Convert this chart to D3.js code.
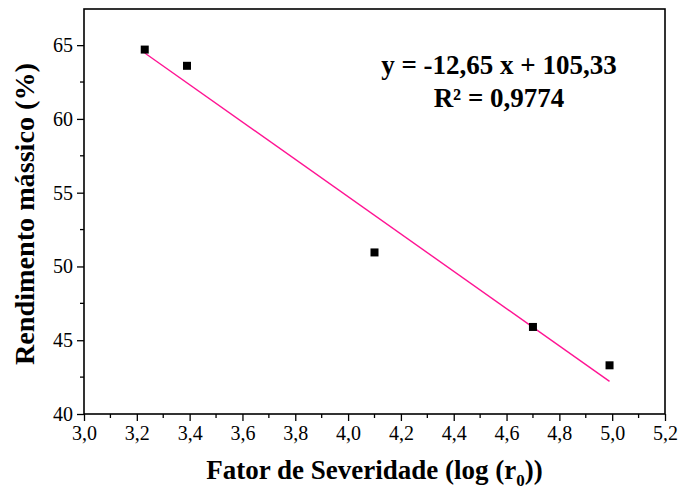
<!DOCTYPE html>
<html>
<head>
<meta charset="utf-8">
<title>Rendimento mássico</title>
<script src="https://d3js.org/d3.v7.min.js"></script>
<style>
  body { margin: 0; background: #fff; }
</style>
</head>
<body>
<div id="chart"></div>
<script>
// data
var severidade = [3.23, 3.39, 4.10, 4.70, 4.99];
var rendimento = [64.7, 63.6, 50.95, 45.9, 43.3];
var slope = -12.65, intercept = 105.33;
var xTicks = [3.0, 3.2, 3.4, 3.6, 3.8, 4.0, 4.2, 4.4, 4.6, 4.8, 5.0, 5.2];
var yTicks = [40, 45, 50, 55, 60, 65];
var eqLines = ["y = -12,65 x + 105,33", "R² = 0,9774"];

var FONT = "Liberation Serif";
var W = 679, H = 494;
var margin = {top: 9, right: 14, bottom: 80, left: 84};
var width = W - margin.left - margin.right,
    height = H - margin.top - margin.bottom;

var svg = d3.select("#chart").append("svg")
    .attr("width", W).attr("height", H);
var g = svg.append("g")
    .attr("transform", "translate(" + margin.left + "," + margin.top + ")");

var x = d3.scaleLinear().domain([3.0, 5.2]).range([0, width]);
var y = d3.scaleLinear().domain([40, 67.45]).range([height, 0]);

var fmt = function(d) { return d3.format(".1f")(d).replace(".", ","); };

// minor ticks
var xMinor = d3.range(3.1, 5.2, 0.2);
var yMinor = d3.range(42.5, 67.5, 5);
g.selectAll(".xminor").data(xMinor).enter().append("line")
    .attr("x1", d => x(d)).attr("x2", d => x(d))
    .attr("y1", height).attr("y2", height + 4)
    .attr("stroke", "#000").attr("stroke-width", 1.3);
g.selectAll(".yminor").data(yMinor).enter().append("line")
    .attr("x1", 0).attr("x2", -4)
    .attr("y1", d => y(d)).attr("y2", d => y(d))
    .attr("stroke", "#000").attr("stroke-width", 1.3);

// axes
var xAxis = g.append("g")
    .attr("transform", "translate(0," + height + ")")
    .call(d3.axisBottom(x).tickValues(xTicks).tickFormat(fmt).tickSize(7).tickPadding(5));
var yAxis = g.append("g")
    .call(d3.axisLeft(y).tickValues(yTicks).tickFormat(d3.format("d")).tickSize(7).tickPadding(4));
[xAxis, yAxis].forEach(function(a) {
  a.attr("font-family", null);
  a.select(".domain").remove();
  a.selectAll("line").attr("stroke", "#000").attr("stroke-width", 1.3);
  a.selectAll("text").style("font-family", FONT)
    .style("font-size", "20px").attr("fill", "#000");
});

// frame
g.append("rect").attr("x", 0).attr("y", 0)
    .attr("width", width).attr("height", height)
    .attr("fill", "none").attr("stroke", "#000").attr("stroke-width", 1.6);

// fit line
var x0 = d3.min(severidade), x1 = d3.max(severidade);
g.append("line")
    .attr("x1", x(x0)).attr("y1", y(slope * x0 + intercept))
    .attr("x2", x(x1)).attr("y2", y(slope * x1 + intercept))
    .attr("stroke", "#ff1493").attr("stroke-width", 1.4);

// points
g.selectAll(".pt").data(severidade).enter().append("rect")
    .attr("x", d => x(d) - 4)
    .attr("y", (d, i) => y(rendimento[i]) - 4)
    .attr("width", 8).attr("height", 8)
    .attr("fill", "#000");

// equation
g.selectAll(".eq").data(eqLines).enter().append("text")
    .attr("x", 415).attr("y", (d, i) => 65 + i * 33)
    .attr("text-anchor", "middle")
    .style("font-family", FONT)
    .style("font-size", "27px").style("font-weight", "bold")
    .text(d => d);

// axis titles
var xt = svg.append("text")
    .attr("x", margin.left + width / 2).attr("y", 479)
    .attr("text-anchor", "middle")
    .style("font-family", FONT)
    .style("font-size", "27px").style("font-weight", "bold");
xt.append("tspan").text("Fator de Severidade (log (r");
xt.append("tspan").attr("dy", 7).style("font-size", "17px").text("0");
xt.append("tspan").attr("dy", -7).text("))");

svg.append("text")
    .attr("transform", "translate(34,214) rotate(-90)")
    .attr("text-anchor", "middle")
    .attr("textLength", 302).attr("lengthAdjust", "spacingAndGlyphs")
    .style("font-family", FONT)
    .style("font-size", "28px").style("font-weight", "bold")
    .text("Rendimento mássico (%)");
</script>
</body>
</html>
